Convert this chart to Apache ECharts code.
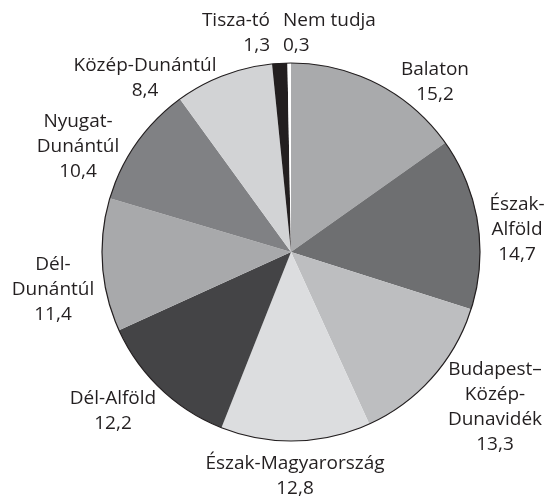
<!DOCTYPE html>
<html>
<head>
<meta charset="utf-8">
<script src="https://cdn.jsdelivr.net/npm/echarts@6/dist/echarts.min.js"></script>
<style>
  html, body { margin: 0; padding: 0; background: #fff; }
  #main { width: 553px; height: 498px; }
</style>
</head>
<body>
<div id="main"></div>
<script>
// régiók, óramutató járásával egyezően a 12 órától
const categories = ['Balaton', 'Észak-Alföld', 'Budapest–Közép-Dunavidék', 'Észak-Magyarország',
  'Dél-Alföld', 'Dél-Dunántúl', 'Nyugat-Dunántúl', 'Közép-Dunántúl', 'Tisza-tó', 'Nem tudja'];
const labelNames = ['Balaton', 'Észak-\nAlföld', 'Budapest–\nKözép-\nDunavidék', 'Észak-Magyarország',
  'Dél-Alföld', 'Dél-\nDunántúl', 'Nyugat-\nDunántúl', 'Közép-Dunántúl', 'Tisza-tó', 'Nem tudja'];
const values = [15.2, 14.7, 13.3, 12.8, 12.2, 11.4, 10.4, 8.4, 1.3, 0.3];

const colors = ['#a9aaac', '#6e6f71', '#bdbec0', '#dcdddf', '#444446',
  '#a8a9ab', '#808184', '#d2d3d5', '#231f20', '#ffffff'];
// címkék helye (px) és igazítása
const labelPos = [[435, 82, 'center'], [517, 230, 'center'], [495, 407, 'center'],
  [295, 476, 'center'], [113, 411, 'center'], [53, 290, 'center'], [78, 147, 'center'],
  [145, 78, 'center'], [270, 33, 'right'], [283, 33, 'left']];

var myChart = echarts.init(document.getElementById('main'));
myChart.setOption({
  animation: false,
  series: [
    {
      type: 'pie',
      center: [291, 252],
      radius: 189,
      startAngle: 90,
      clockwise: true,
      avoidLabelOverlap: false,
      itemStyle: { borderWidth: 0 },
      label: {
        show: true,
        position: 'outside',
        fontFamily: 'Open Sans',
        fontSize: 19,
        lineHeight: 25,
        color: '#231f20',
        formatter: p => labelNames[p.dataIndex] + '\n' + String(p.value).replace('.', ',')
      },
      labelLine: { show: false },
      labelLayout: p => ({
        x: labelPos[p.dataIndex][0],
        y: labelPos[p.dataIndex][1],
        align: labelPos[p.dataIndex][2],
        verticalAlign: 'middle'
      }),
      data: categories.map((c, i) => ({
        name: c,
        value: values[i],
        itemStyle: { color: colors[i] }
      }))
    },
    {
      // körvonal
      type: 'pie',
      center: [291, 252],
      radius: 189,
      silent: true,
      label: { show: false },
      labelLine: { show: false },
      itemStyle: { color: 'rgba(0,0,0,0)', borderColor: '#231f20', borderWidth: 1.2 },
      data: [{ value: 1 }]
    }
  ]
});
</script>
</body>
</html>
